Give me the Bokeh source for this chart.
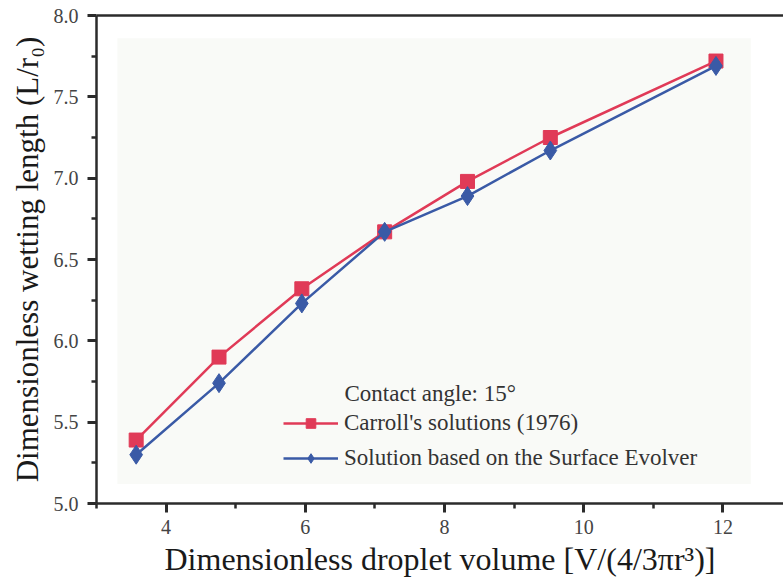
from bokeh.plotting import figure
from bokeh.models import (Range1d, LinearAxis, Legend, LegendItem, Label,
                          BoxAnnotation, FixedTicker, CustomJSTickFormatter)
from bokeh.embed import file_html
from bokeh.resources import INLINE

# ---- data ----
volume = [3.57, 4.76, 5.95, 7.14, 8.33, 9.52, 11.90]
carroll = [5.39, 5.90, 6.32, 6.67, 6.98, 7.25, 7.72]
evolver = [5.30, 5.74, 6.23, 6.67, 6.89, 7.17, 7.69]
x_ticks = [4, 6, 8, 10, 12]
x_minor = [3, 5, 7, 9, 11]
y_ticks = [5.0, 5.5, 6.0, 6.5, 7.0, 7.5, 8.0]
y_minor = [5.25, 5.75, 6.25, 6.75, 7.25, 7.75]
name_carroll = "Carroll's solutions (1976)"
name_evolver = "Solution based on the Surface Evolver"
note = "Contact angle: 15\u00b0"

RED = "#e03a57"
BLUE = "#3a5aa6"
AX = "#2b2b2b"
SERIF = "Liberation Serif"

p = figure(width=783, height=584, output_backend="svg", toolbar_location=None,
           x_range=Range1d(3.0, 12.87), y_range=Range1d(5.0, 8.0),
           min_border_left=96, min_border_right=0, min_border_top=15,
           min_border_bottom=81)
p.outline_line_color = None
p.xgrid.visible = False
p.ygrid.visible = False
p.background_fill_color = "white"
p.border_fill_color = "white"

p.add_layout(BoxAnnotation(left=3.3, right=12.4, bottom=5.12, top=7.86,
                           fill_color="#f8f9f5", fill_alpha=0.8,
                           line_color=None, level="underlay"))

xa = p.xaxis[0]
ya = p.yaxis[0]
xa.ticker = FixedTicker(ticks=x_ticks, minor_ticks=x_minor)
ya.ticker = FixedTicker(ticks=y_ticks, minor_ticks=y_minor)
ya.formatter = CustomJSTickFormatter(code="return tick.toFixed(1);")

for ax in (xa, ya):
    ax.axis_line_color = AX
    ax.axis_line_width = 2.5
    ax.major_tick_line_color = AX
    ax.minor_tick_line_color = AX
    ax.major_tick_line_width = 3
    ax.minor_tick_line_width = 2.5
    ax.major_tick_in = 0
    ax.major_tick_out = 9
    ax.minor_tick_in = 0
    ax.minor_tick_out = 5
    ax.major_label_text_font = SERIF
    ax.major_label_text_color = "#444444"
    ax.major_label_text_font_size = "20px"
    ax.axis_label_text_font = SERIF
    ax.axis_label_text_font_style = "normal"
    ax.axis_label_text_color = "#1a1a1a"

xa.major_label_standoff = 7
ya.major_label_standoff = 9
xa.axis_label = "Dimensionless droplet volume [V/(4/3\u03c0r\u00b3)]"
ya.axis_label = "Dimensionless wetting length (L/r\u2080)"
xa.axis_label_text_font_size = "32px"
ya.axis_label_text_font_size = "31px"
xa.axis_label_standoff = 4
ya.axis_label_standoff = 6

top = LinearAxis(ticker=FixedTicker(ticks=[]), axis_line_color=AX,
                 axis_line_width=2.5, major_tick_out=0, minor_tick_out=0,
                 major_label_text_font_size="0px")
p.add_layout(top, "above")

r1l = p.line(volume, carroll, line_color=RED, line_width=2.5)
r1m = p.scatter(volume, carroll, marker="square", size=14, fill_color=RED,
                line_color=RED)
r2l = p.line(volume, evolver, line_color=BLUE, line_width=2.5)
r2m = p.scatter(volume, evolver, marker="diamond", size=19, fill_color=BLUE,
                line_color=BLUE)

legend = Legend(items=[LegendItem(label=name_carroll, renderers=[r1l, r1m]),
                       LegendItem(label=name_evolver, renderers=[r2l, r2m])],
                location=(187, 32), background_fill_alpha=0,
                border_line_color=None, padding=0, margin=0, spacing=9,
                glyph_width=55, glyph_height=24, label_height=24,
                label_standoff=6, label_text_font=SERIF,
                label_text_font_size="23px", label_text_color="#333333")
p.add_layout(legend, "center")

p.add_layout(Label(x=248, y=98, x_units="screen", y_units="screen",
                   text=note, text_font=SERIF, text_font_size="23px",
                   text_color="#333333"))

open("out.html", "w").write(file_html(p, INLINE))
